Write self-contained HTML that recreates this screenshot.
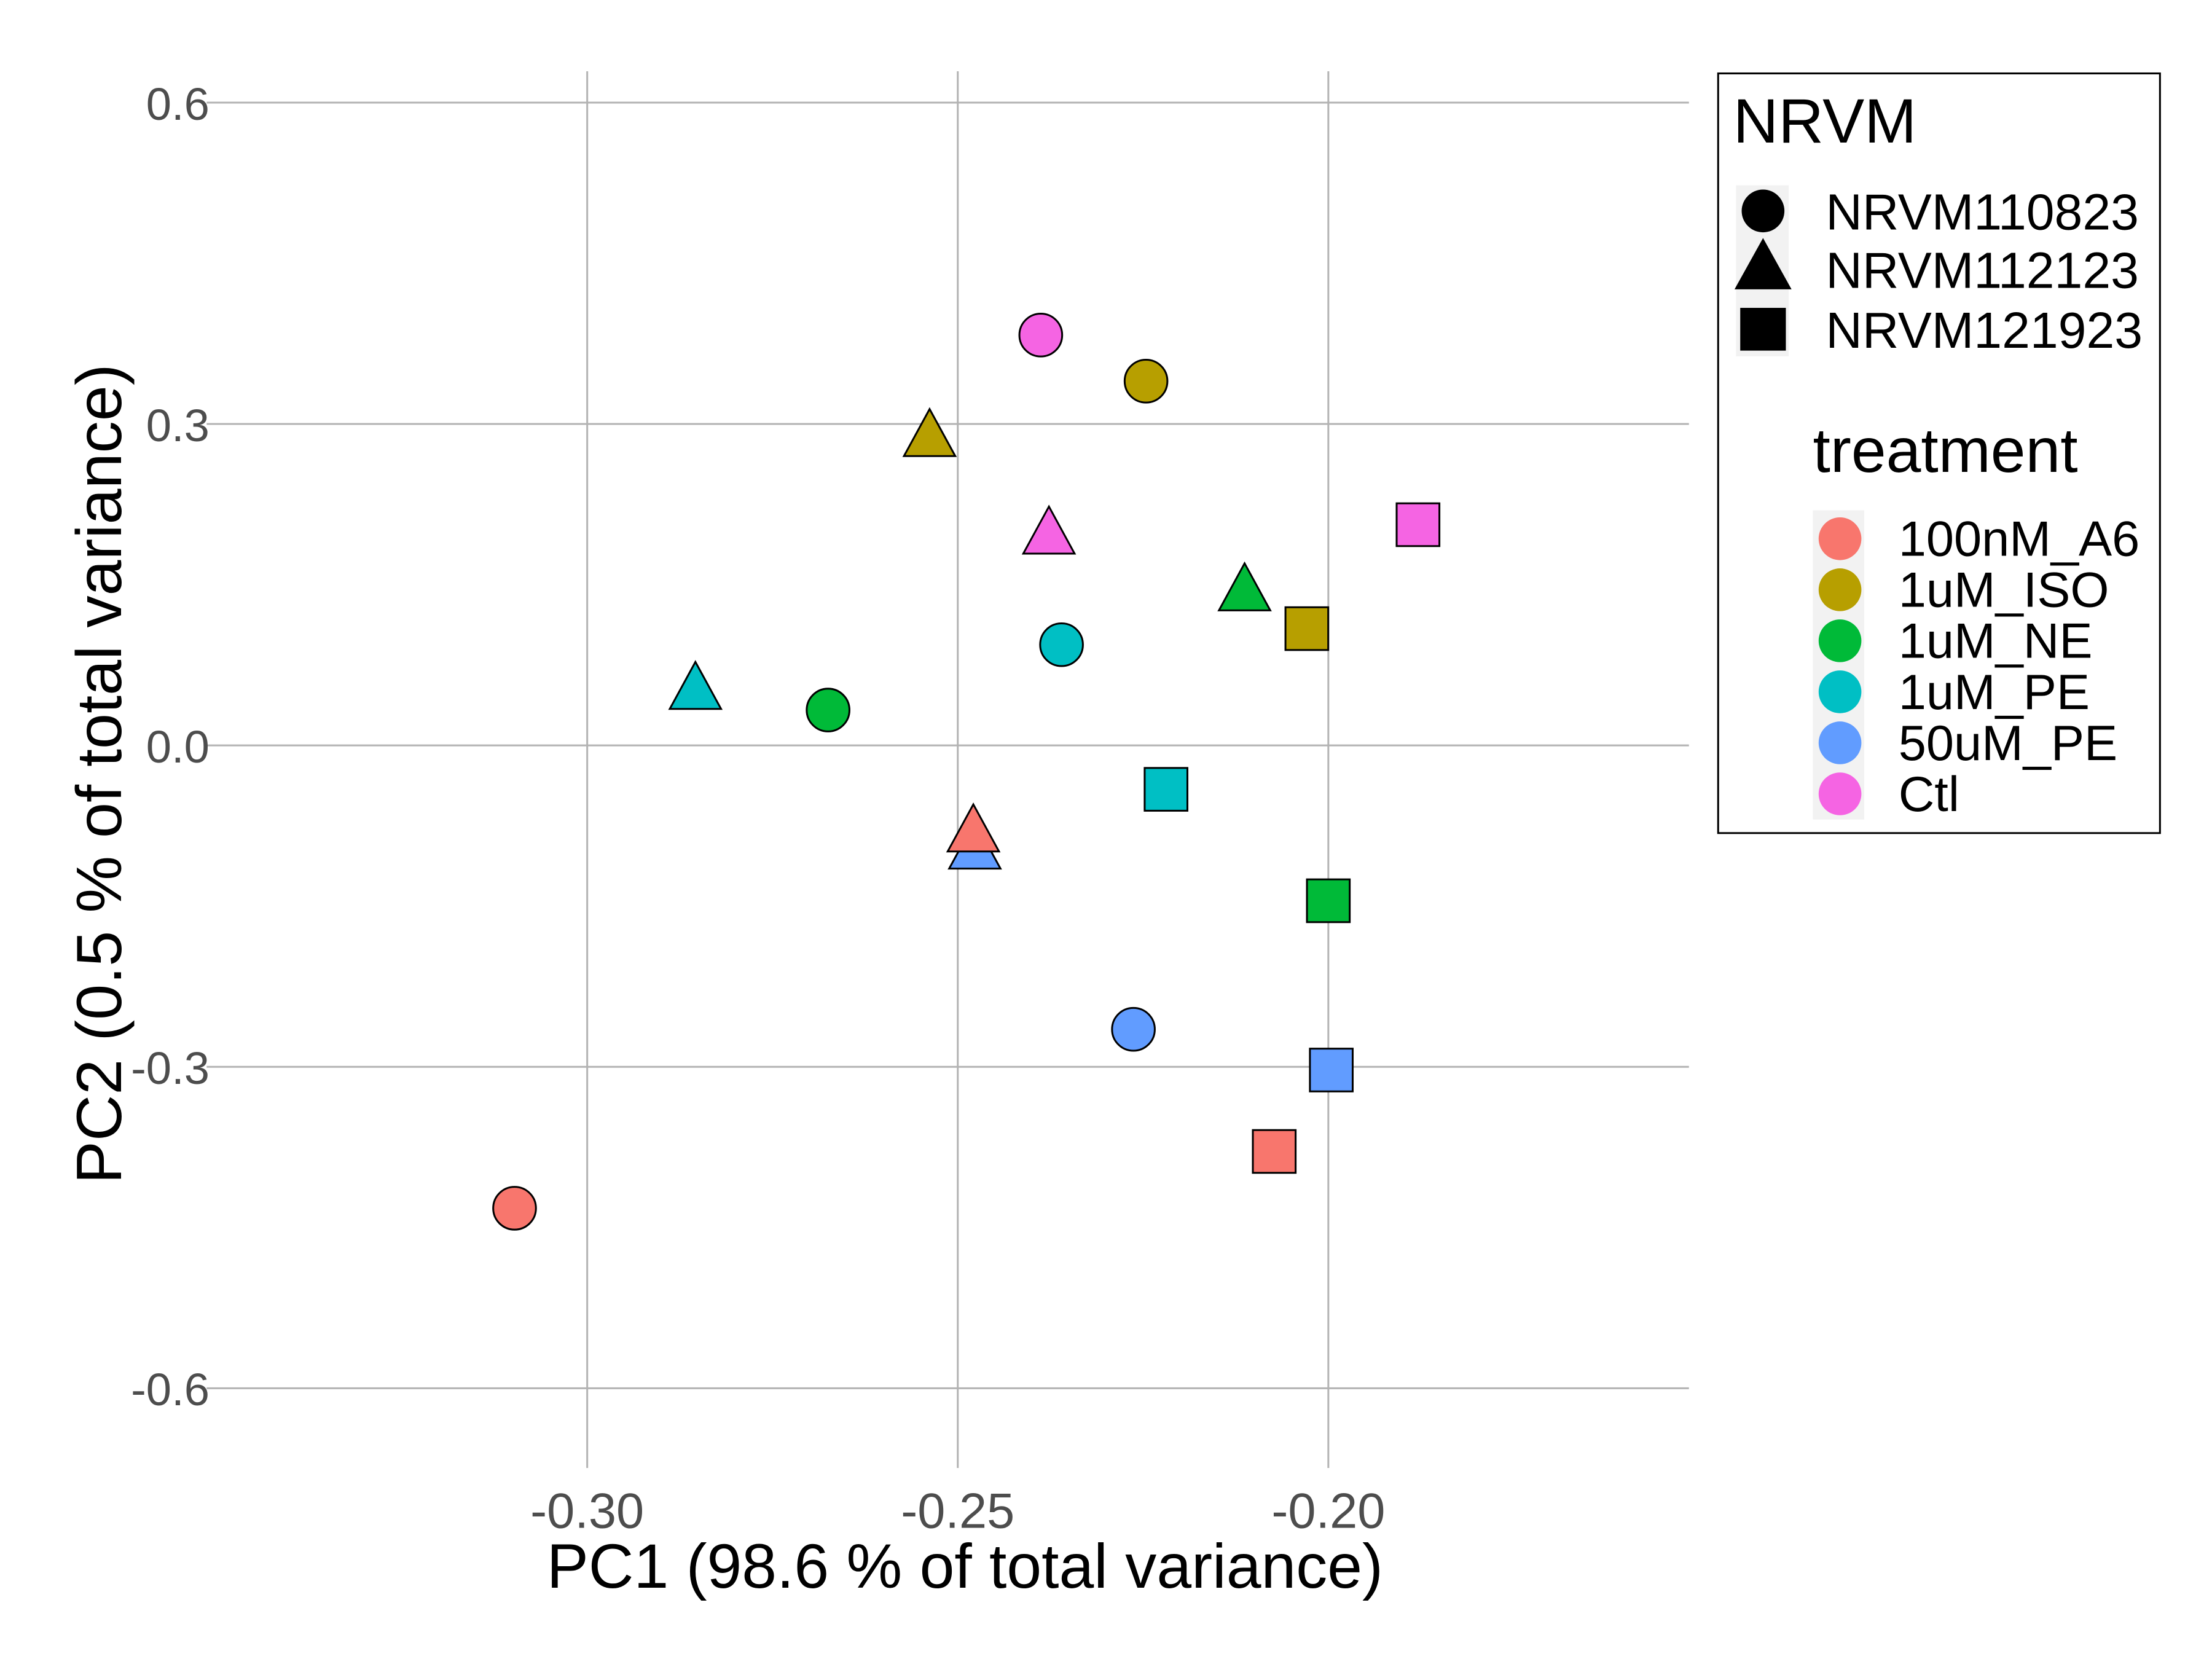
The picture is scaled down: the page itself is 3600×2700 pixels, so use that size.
<!DOCTYPE html>
<html><head><meta charset="utf-8"><style>
html,body{margin:0;padding:0;background:#fff;}
svg{display:block;font-family:"Liberation Sans",Arial,sans-serif;}
</style></head><body>
<svg id="chart" width="3600" height="2700" viewBox="0 0 1552 1164" preserveAspectRatio="none" xmlns="http://www.w3.org/2000/svg">
<rect x="0" y="0" width="1552" height="1164" fill="#fff"/>
<g id="grid"></g>
<g id="points"></g>
<g id="axes"></g>
<text x="677" y="1114" font-size="44" text-anchor="middle" fill="#000">PC1 (98.6 % of total variance)</text>
<text transform="translate(85,543) rotate(-90)" font-size="45" text-anchor="middle" fill="#000">PC2 (0.5 % of total variance)</text>
<g>
<rect x="1205.5" y="51.5" width="310" height="533" fill="#fff" stroke="#000" stroke-width="1.3"/>
<text x="1216" y="100" font-size="44">NRVM</text>
<rect x="1218" y="130" width="37" height="120" fill="#f2f2f2"/>
<circle cx="1237" cy="148" r="15" fill="#000"/>
<polygon points="1237,167 1217,203 1257,203" fill="#000"/>
<rect x="1221" y="216" width="32" height="30" fill="#000"/>
<text x="1281" y="161" font-size="35.5">NRVM110823</text>
<text x="1281" y="202" font-size="35.5">NRVM112123</text>
<text x="1281" y="244" font-size="35.5">NRVM121923</text>
<text x="1272" y="331" font-size="44">treatment</text>
<rect x="1272" y="358" width="36" height="217" fill="#f2f2f2"/>
<g id="tlegend"></g>
</g>
</svg>
<script>
const xTicks = [-0.30, -0.25, -0.20];
const xTickLabels = ["-0.30", "-0.25", "-0.20"];
const yTicks = [0.6, 0.3, 0.0, -0.3, -0.6];
const yTickLabels = ["0.6", "0.3", "0.0", "-0.3", "-0.6"];
const treatments = ["100nM_A6", "1uM_ISO", "1uM_NE", "1uM_PE", "50uM_PE", "Ctl"];
const colors = ["#F8766D", "#B79F00", "#00BA38", "#00BFC4", "#619CFF", "#F564E3"];
const circleX = [-0.3098, -0.2246, -0.2675, -0.2360, -0.2263, -0.2388];
const circleY = [-0.432, 0.340, 0.033, 0.094, -0.265, 0.383];
const triTreat = [1, 5, 2, 3, 4, 0];
const triX = [-0.2538, -0.2377, -0.2113, -0.2854, -0.2477, -0.2479];
const triY = [0.286, 0.195, 0.142, 0.050, -0.099, -0.083];
const sqX = [-0.2073, -0.2029, -0.2000, -0.2219, -0.1996, -0.1879];
const sqY = [-0.379, 0.109, -0.145, -0.041, -0.303, 0.206];

const NS = "http://www.w3.org/2000/svg";
const L = 145, R = 1185, T = 50, B = 1030;
const sx = v => 412 + (v + 0.30) * 5200;
const sy = v => 523 - v * 751.7;
function mk(tag, attrs, parent) {
  const e = document.createElementNS(NS, tag);
  for (const k in attrs) e.setAttribute(k, attrs[k]);
  parent.appendChild(e);
  return e;
}
const grid = document.getElementById('grid');
const axes = document.getElementById('axes');
xTicks.forEach((v, i) => {
  const l = mk('line', {x1: sx(v), x2: sx(v), y1: T, y2: B, stroke: '#b3b3b3', 'stroke-width': 1.3}, grid);
  
  
  const t = mk('text', {x: sx(v), y: 1072, 'font-size': 35, 'text-anchor': 'middle', fill: '#4d4d4d'}, axes);
  t.textContent = xTickLabels[i];
  
  
});
yTicks.forEach((v, i) => {
  const l = mk('line', {x1: L, x2: R, y1: sy(v), y2: sy(v), stroke: '#b3b3b3', 'stroke-width': 1.3}, grid);
  
  
  const t = mk('text', {x: 147, y: sy(v) + 12, 'font-size': 32, 'text-anchor': 'end', fill: '#4d4d4d'}, axes);
  t.textContent = yTickLabels[i];
  
  
});
const pts = document.getElementById('points');
circleX.forEach((v, i) => {
  const c = mk('circle', {cx: sx(v), cy: sy(circleY[i]), r: 15, fill: colors[i], stroke: '#000', 'stroke-width': 1.3}, pts);
  
  
});
triX.forEach((v, i) => {
  const x = sx(v), y = sy(triY[i]);
  const p = mk('polygon', {points: `${x},${y-21} ${x-18},${y+12} ${x+18},${y+12}`, fill: colors[triTreat[i]], stroke: '#000', 'stroke-width': 1.3}, pts);
  
  
});
sqX.forEach((v, i) => {
  const r = mk('rect', {x: sx(v) - 15, y: sy(sqY[i]) - 15, width: 30, height: 30, fill: colors[i], stroke: '#000', 'stroke-width': 1.3}, pts);
  
  
});
const tl = document.getElementById('tlegend');
treatments.forEach((name, i) => {
  const y = 378 + i * 35.8;
  const c = mk('circle', {cx: 1291, cy: y, r: 15, fill: colors[i]}, tl);
  
  
  const t = mk('text', {x: 1332, y: y + 12, 'font-size': 35}, tl);
  t.textContent = name;
  
  
});
</script>
</body></html>
